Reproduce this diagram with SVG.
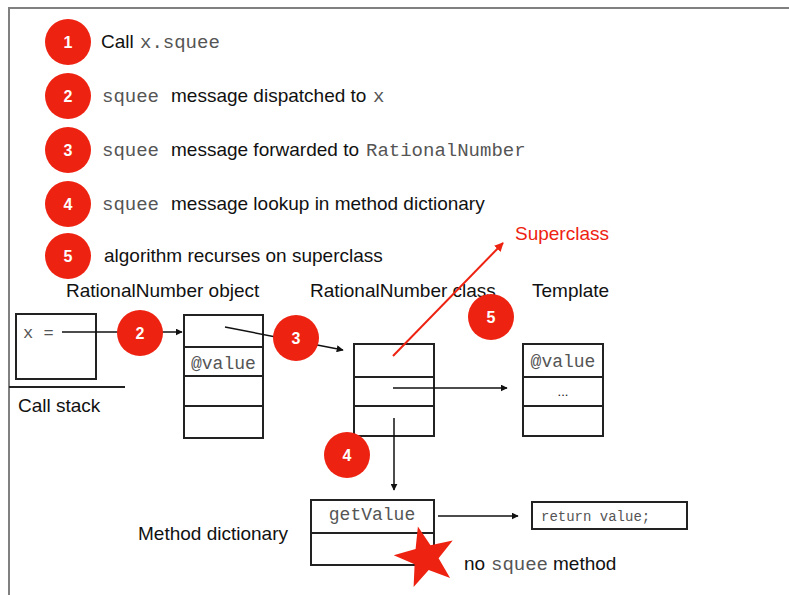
<svg xmlns="http://www.w3.org/2000/svg" width="789" height="595" viewBox="0 0 789 595">
<style>
.s{font-family:"Liberation Sans",Arial,sans-serif;font-size:19px;fill:#111}
.m{font-family:"Liberation Mono","Courier New",monospace;font-size:19px;fill:#555}
.n{font-family:"Liberation Sans",Arial,sans-serif;font-size:16px;font-weight:bold;fill:#fff;text-anchor:middle}
.c{fill:#ee2211}
.b{fill:#fff;stroke:#222;stroke-width:2}
.l{stroke:#222;stroke-width:2;fill:none}
.a{stroke:#111;stroke-width:1.5;fill:none;marker-end:url(#ah)}
</style>
<defs>
<marker id="ah" viewBox="0 0 10 10" refX="9" refY="5" markerWidth="7" markerHeight="7" markerUnits="userSpaceOnUse" orient="auto"><path d="M0,0 L10,5 L0,10 z" fill="#111"/></marker>
<marker id="ahr" viewBox="0 0 10 10" refX="9" refY="5" markerWidth="9" markerHeight="9" markerUnits="userSpaceOnUse" orient="auto"><path d="M0,0 L10,5 L0,10 z" fill="#ee2211"/></marker>
</defs>
<rect width="789" height="595" fill="#fff"/>
<path d="M9,595 V8 H789" stroke="#808080" stroke-width="2" fill="none"/>

<g id="steps">
<circle class="c" cx="68" cy="42" r="23"/><text class="n" x="68" y="48">1</text>
<text class="s" x="101" y="48">Call</text><text class="m" x="140" y="48">x.squee</text>
<circle class="c" cx="68" cy="96" r="23"/><text class="n" x="68" y="102">2</text>
<text class="m" x="102" y="102">squee</text><text class="s" x="171" y="102">message dispatched to</text><text class="m" x="373" y="102">x</text>
<circle class="c" cx="68" cy="150" r="23"/><text class="n" x="68" y="156">3</text>
<text class="m" x="102" y="156">squee</text><text class="s" x="171" y="156">message forwarded to</text><text class="m" x="366" y="156">RationalNumber</text>
<circle class="c" cx="68" cy="204" r="23"/><text class="n" x="68" y="210">4</text>
<text class="m" x="102" y="210">squee</text><text class="s" x="171" y="210">message lookup in method dictionary</text>
<circle class="c" cx="68" cy="256" r="23"/><text class="n" x="68" y="262">5</text>
<text class="s" x="104" y="262">algorithm recurses on superclass</text>
</g>

<g id="labels">
<text class="s" x="66" y="297">RationalNumber object</text>
<text class="s" x="310" y="297">RationalNumber class</text>
<text class="s" x="532" y="297">Template</text>
<text class="s" x="18" y="412">Call stack</text>
<text class="s" x="138" y="540">Method dictionary</text>
<text class="s" x="464" y="570">no</text><text class="m" x="491" y="570">squee</text><text class="s" x="553" y="570">method</text>
<text class="s" x="515" y="240" style="fill:#ee2211">Superclass</text>
</g>

<g id="callstack">
<rect class="b" x="16" y="314" width="80" height="65"/>
<text class="m" x="23" y="338" style="font-size:17px">x =</text>
<line class="l" x1="9" y1="387" x2="125" y2="387"/>
</g>

<g id="object">
<rect class="b" x="184" y="315" width="79" height="123"/>
<line class="l" x1="184" y1="347" x2="263" y2="347"/>
<line class="l" x1="184" y1="376" x2="263" y2="376"/>
<line class="l" x1="184" y1="406" x2="263" y2="406"/>
<text class="m" x="191" y="369" style="font-size:18px">@value</text>
</g>

<g id="class">
<rect class="b" x="354" y="344" width="80" height="92"/>
<line class="l" x1="354" y1="377" x2="434" y2="377"/>
<line class="l" x1="354" y1="406" x2="434" y2="406"/>
</g>

<g id="template">
<rect class="b" x="523" y="344" width="80" height="92"/>
<line class="l" x1="523" y1="377" x2="603" y2="377"/>
<line class="l" x1="523" y1="406" x2="603" y2="406"/>
<text class="m" x="563" y="367" text-anchor="middle" style="font-size:18px">@value</text>
<text class="s" x="563" y="396" text-anchor="middle" style="font-size:13px">...</text>
</g>

<g id="methoddict">
<rect class="b" x="311" y="500" width="123" height="65"/>
<line class="l" x1="311" y1="533" x2="434" y2="533"/>
<text class="m" x="372" y="520" text-anchor="middle" style="font-size:18px">getValue</text>
</g>

<g id="returnbox">
<rect class="b" x="532" y="502" width="155" height="27"/>
<text class="m" x="541" y="521" style="font-size:14px">return value;</text>
</g>

<g id="connectors">
<line class="a" x1="62" y1="332" x2="182" y2="332"/>
<line class="a" x1="225" y1="327" x2="343" y2="350"/>
<line class="a" x1="393" y1="388" x2="507" y2="388"/>
<line class="a" x1="394" y1="418" x2="394" y2="490"/>
<line class="a" x1="438" y1="516" x2="518" y2="516"/>
<line x1="393" y1="356" x2="503" y2="243" stroke="#ee2211" stroke-width="2" marker-end="url(#ahr)"/>
</g>

<g id="badges">
<circle class="c" cx="140" cy="333" r="23"/><text class="n" x="140" y="339">2</text>
<circle class="c" cx="296" cy="338" r="23"/><text class="n" x="296" y="344">3</text>
<circle class="c" cx="491" cy="317" r="23"/><text class="n" x="491" y="323">5</text>
<circle class="c" cx="347" cy="455" r="23"/><text class="n" x="347" y="461">4</text>
<polygon id="star" class="c" points="417.9,526.4 430.5,545.3 452.7,540.4 438.6,558.3 450.1,578 428.7,570 413.6,587.1 414.6,564.3 393.7,555.2 415.6,549"/>
</g>
</svg>
